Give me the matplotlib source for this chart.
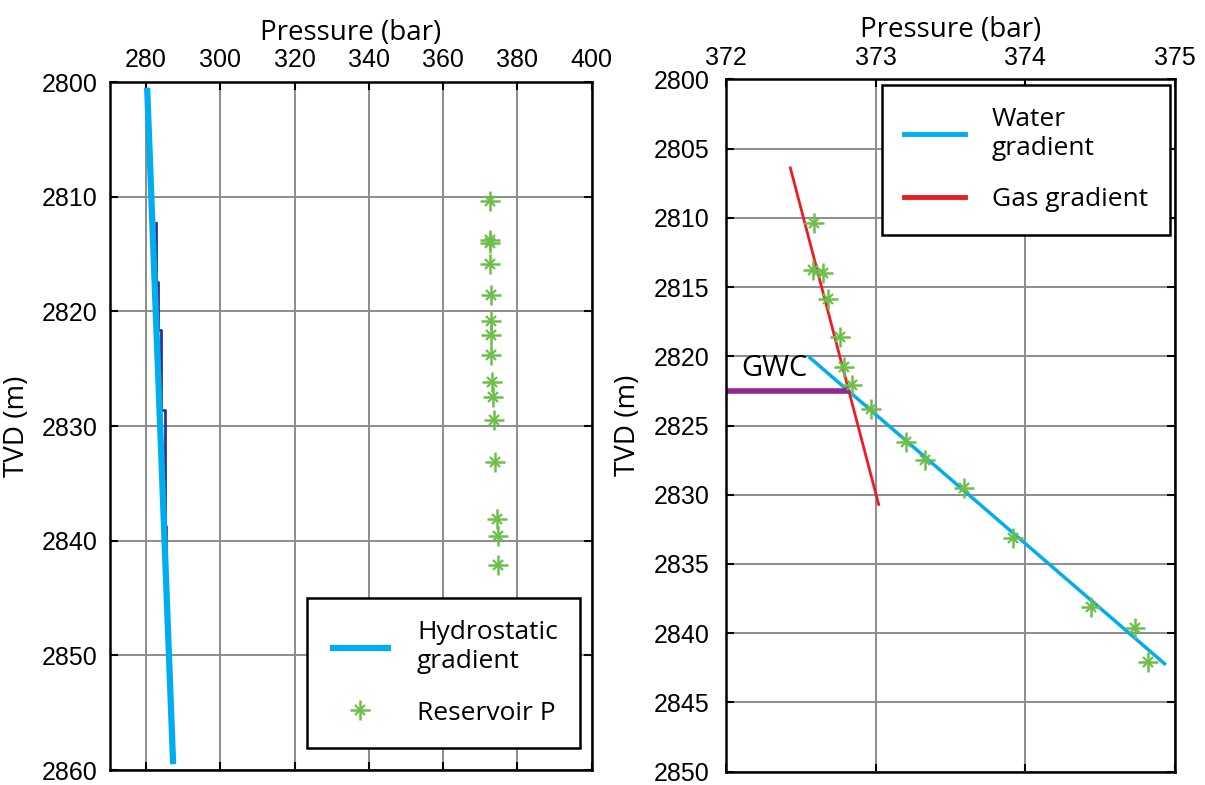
import matplotlib
matplotlib.use("Agg")
from matplotlib import pyplot as plt

# Reservoir pressure measurements (bar) vs true vertical depth (m)
res_depth = [2810.4, 2813.8, 2814.0, 2815.9, 2818.6, 2820.8, 2822.1, 2823.8,
             2826.2, 2827.5, 2829.5, 2833.1, 2838.1, 2839.6, 2842.1]
res_press = [372.59, 372.58, 372.65, 372.68, 372.76, 372.79, 372.84, 372.97,
             373.20, 373.33, 373.59, 373.92, 374.44, 374.73, 374.82]

# Hydrostatic gradient (left panel)
hydro_depth = [2800.5, 2859.5]
hydro_press = [280.3, 287.3]

# Stepped line partly hidden under the hydrostatic line
step_depth = [2812.3, 2817.4, 2821.6, 2828.6, 2838.7, 2840.5]
step_press = [282.6, 283.1, 283.9, 285.1, 285.3]

# Fitted gradients (right panel)
water_depth = [2820.1, 2842.2]
water_press = [372.56, 374.93]
gas_depth = [2806.4, 2830.7]
gas_press = [372.43, 373.02]

# Gas-water contact
gwc_depth = [2822.5, 2822.5]
gwc_press = [372.0, 372.83]

cyan = "#00aeef"
green = "#6cbf4a"
red = "#ed1c24"
purple = "#92278f"
dark_blue = "#2e3192"

label_font = ["Open Sans", "DejaVu Sans"]
tick_font = ["Liberation Sans Narrow", "Liberation Sans", "DejaVu Sans"]

fig = plt.figure(figsize=(12.05, 7.85), dpi=100)
W, H = 1205.0, 785.0
ax1 = fig.add_axes([110 / W, 1 - 770 / H, (591.7 - 110) / W, (770 - 82) / H])
ax2 = fig.add_axes([726 / W, 1 - 771.7 / H, (1175 - 726) / W, (771.7 - 79.3) / H])


def style_axes(ax):
    ax.xaxis.tick_top()
    ax.xaxis.set_label_position("top")
    ax.tick_params(direction="in", length=6, width=1.5, top=True, bottom=True,
                   left=True, right=True, labelsize=18, labelbottom=False,
                   labeltop=True, labelleft=True, labelright=False)
    for lab in ax.get_xticklabels() + ax.get_yticklabels():
        lab.set_family(tick_font)
    for sp in ax.spines.values():
        sp.set_linewidth(1.8)
        sp.set_color("black")
    ax.grid(True, color="#8c8c8c", linewidth=1.4)
    ax.set_axisbelow(True)
    ax.set_xlabel("Pressure (bar)", fontsize=20, family=label_font, labelpad=6)
    ax.set_ylabel("TVD (m)", fontsize=20, family=label_font, labelpad=8)


def legend_box(ax, handles, labels, loc, anchor):
    leg = ax.legend(handles, labels, loc=loc, bbox_to_anchor=anchor,
                    borderaxespad=0, prop={"family": label_font, "size": 19},
                    handlelength=2.3, handletextpad=1.0, labelspacing=1.0,
                    borderpad=0.85, fancybox=False, framealpha=1,
                    edgecolor="black")
    leg.get_frame().set_linewidth(1.8)
    return leg


# Left panel
sd = []
sp_ = []
for i in range(len(step_press)):
    sd += [step_depth[i], step_depth[i + 1]]
    sp_ += [step_press[i], step_press[i]]
ax1.plot(sp_, sd, color=dark_blue, linewidth=2)
h_hydro, = ax1.plot(hydro_press, hydro_depth, color=cyan, linewidth=4.5,
                    solid_capstyle="butt")
m1, = ax1.plot(res_press, res_depth, linestyle="none", marker="+",
               markersize=14, markeredgewidth=1.8, color=green)
m2, = ax1.plot(res_press, res_depth, linestyle="none", marker="x",
               markersize=7, markeredgewidth=1.6, color=green)
ax1.set_xlim(270.3, 400)
ax1.set_ylim(2860, 2800)
ax1.set_xticks(range(280, 401, 20))
ax1.set_yticks(range(2800, 2861, 10))
style_axes(ax1)
ax1.tick_params(axis="x", pad=7)
ax1.tick_params(axis="y", pad=9)
legend_box(ax1, [h_hydro, (m1, m2)], ["Hydrostatic\ngradient", "Reservoir P"],
           "lower right", (0.976, 0.032))

# Right panel
h_water, = ax2.plot(water_press, water_depth, color=cyan, linewidth=2.5)
h_gas, = ax2.plot(gas_press, gas_depth, color=red, linewidth=2)
ax2.plot(gwc_press, gwc_depth, color=purple, linewidth=4, solid_capstyle="butt")
ax2.plot(res_press, res_depth, linestyle="none", marker="+",
         markersize=14, markeredgewidth=1.8, color=green)
ax2.plot(res_press, res_depth, linestyle="none", marker="x",
         markersize=7, markeredgewidth=1.6, color=green)
ax2.text(372.1, 2821.9, "GWC", fontsize=21, family=label_font, va="bottom")
ax2.set_xlim(372, 375)
ax2.set_ylim(2850, 2800)
ax2.set_xticks([372, 373, 374, 375])
ax2.set_yticks(range(2800, 2851, 5))
style_axes(ax2)
ax2.tick_params(axis="x", pad=7)
ax2.tick_params(axis="y", pad=12)
leg2 = legend_box(ax2, [h_water, h_gas], ["Water\ngradient", "Gas gradient"],
                  "upper right", (0.989, 0.992))
for line in leg2.get_lines():
    line.set_linewidth(3.5)

fig.savefig("out.png", dpi=100)
